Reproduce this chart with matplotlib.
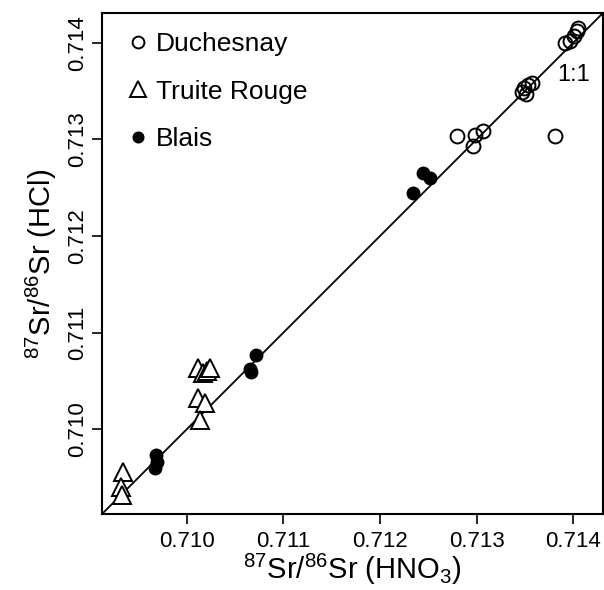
import numpy as np
import matplotlib
matplotlib.use("Agg")
import matplotlib.pyplot as plt

plt.rcParams['font.family'] = ['Liberation Sans', 'DejaVu Sans']
plt.rcParams['mathtext.default'] = 'regular'

# 87Sr/86Sr measured with HNO3 (x) and HCl (y) leaching
duch_x = [0.712797, 0.712983, 0.712962, 0.713066, 0.713811,
          0.713469, 0.713510, 0.713490, 0.713531, 0.713573,
          0.713914, 0.713966, 0.714007, 0.714038, 0.714049]
duch_y = [0.713035, 0.713045, 0.712931, 0.713086, 0.713035,
          0.713490, 0.713469, 0.713531, 0.713562, 0.713583,
          0.713997, 0.714017, 0.714069, 0.714121, 0.714152]

truite_x = [0.710117, 0.710169, 0.710210, 0.710241, 0.710117,
            0.710190, 0.710138, 0.709341, 0.709321, 0.709331]
truite_y = [0.710634, 0.710583, 0.710603, 0.710634, 0.710324,
            0.710272, 0.710096, 0.709559, 0.709403, 0.709321]

blais_x = [0.712341, 0.712445, 0.712517, 0.710717, 0.710655,
           0.710665, 0.709683, 0.709693, 0.709672]
blais_y = [0.712445, 0.712652, 0.712600, 0.710769, 0.710624,
           0.710593, 0.709734, 0.709662, 0.709600]

ticks = [0.710, 0.711, 0.712, 0.713, 0.714]
lims = (0.709124, 0.714307)

fig = plt.figure(figsize=(6.04, 5.90), dpi=100)
ax = fig.add_axes([102/604, 76/590, 501/604, 501/590])

ax.axline((0.710, 0.710), slope=1, color='black', lw=1.3, zorder=1)

ax.plot(duch_x, duch_y, 'o', ms=10, mfc='none', mec='black', mew=1.4,
        ls='none', label='Duchesnay', zorder=3)
ax.plot(truite_x, truite_y, '^', ms=13, mfc='white', mec='black', mew=1.4,
        ls='none', label='Truite Rouge', zorder=3)
ax.plot(blais_x, blais_y, 'o', ms=9, mfc='black', mec='black',
        ls='none', label='Blais', zorder=3)

ax.text(0.71400, 0.71367, '1:1', fontsize=17, ha='center', va='center')

ax.set_xlim(lims)
ax.set_ylim(lims)
ax.set_xticks(ticks)
ax.set_yticks(ticks)
ax.set_xticklabels(['%.3f' % t for t in ticks], fontsize=16)
ax.set_yticklabels(['%.3f' % t for t in ticks], fontsize=16, rotation=90, va='center')
ax.tick_params(direction='out', length=7, width=1.2)
ax.tick_params(axis='x', pad=5)
ax.tick_params(axis='y', pad=3)
for s in ax.spines.values():
    s.set_linewidth(1.5)

ax.set_xlabel('$^{87}$Sr/$^{86}$Sr (HNO$_3$)', fontsize=21, labelpad=0)
ax.set_ylabel('$^{87}$Sr/$^{86}$Sr (HCl)', fontsize=21, labelpad=6)

leg = ax.legend(loc='upper left', bbox_to_anchor=(20/501, 1 - 11/501),
                frameon=False, fontsize=19, markerscale=0.85,
                handlelength=0.6, handletextpad=0.4, labelspacing=0.9,
                borderaxespad=0, borderpad=0.3, numpoints=1)

fig.savefig('out.png', dpi=100)
